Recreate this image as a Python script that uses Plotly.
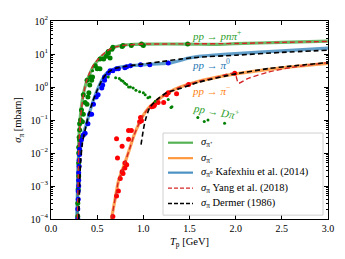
import plotly.graph_objects as go

# ---- Model curves (T_p in GeV, sigma in mbarn) ----
kaf_pip_T = [0.285, 0.29, 0.295, 0.30, 0.32, 0.35, 0.38, 0.42, 0.46, 0.50, 0.55, 0.60, 0.65, 0.70, 0.80, 0.90, 1.0, 1.5, 1.8, 2.0, 2.5, 3.0]
kaf_pip_s = [1e-4, 5e-4, 3e-3, 0.02, 0.15, 0.6, 1.3, 2.5, 4.2, 6.0, 8.5, 11.0, 14.0, 16.5, 19.0, 19.5, 20.0, 20.0, 19.5, 20.5, 22.5, 24.5]

yang_pip_T = [0.285, 0.29, 0.295, 0.30, 0.32, 0.35, 0.38, 0.42, 0.46, 0.50, 0.55, 0.60, 0.65, 0.70, 0.80, 0.90, 1.0, 1.5, 2.0, 2.5, 3.0]
yang_pip_s = [1e-4, 4e-4, 2e-3, 0.012, 0.12, 0.55, 1.4, 2.8, 4.6, 6.5, 9.0, 12.0, 14.5, 16.5, 18.5, 19.5, 20.0, 20.3, 20.8, 22.5, 24.0]

kaf_pi0_T = [0.28, 0.285, 0.29, 0.30, 0.32, 0.35, 0.38, 0.40, 0.43, 0.46, 0.50, 0.55, 0.60, 0.65, 0.70, 0.80, 0.90, 1.0, 1.1, 1.2, 1.3, 1.4, 1.5, 1.6, 1.8, 2.0, 2.5, 3.0]
kaf_pi0_s = [1e-4, 5e-4, 2e-3, 8e-3, 0.02, 0.04, 0.07, 0.11, 0.22, 0.4, 0.8, 1.6, 2.6, 3.2, 3.7, 4.2, 4.5, 4.7, 4.9, 5.1, 5.4, 6.4, 7.6, 8.5, 9.5, 10.2, 12.5, 15.0]

der_pi0_T = [0.30, 0.31, 0.32, 0.34, 0.37, 0.40, 0.45, 0.50, 0.55, 0.60, 0.65, 0.70, 0.80, 1.0, 1.2, 1.4, 1.6, 2.0, 2.5, 3.0]
der_pi0_s = [1e-4, 1e-3, 5e-3, 0.02, 0.05, 0.12, 0.35, 0.8, 1.6, 2.5, 3.2, 3.7, 4.2, 5.0, 5.9, 7.0, 8.0, 9.2, 11.2, 13.0]

kaf_pim_T = [0.655, 0.70, 0.73, 0.76, 0.80, 0.85, 0.90, 0.95, 1.0, 1.05, 1.1, 1.2, 1.3, 1.4, 1.6, 1.8, 2.0, 2.5, 3.0]
kaf_pim_s = [1e-4, 5e-4, 1.4e-3, 2.5e-3, 5e-3, 0.013, 0.035, 0.075, 0.14, 0.22, 0.3, 0.5, 0.75, 1.0, 1.5, 2.0, 2.5, 3.8, 5.2]

yang_pim_T = [0.655, 0.70, 0.73, 0.76, 0.80, 0.85, 0.90, 0.95, 1.0, 1.05, 1.1, 1.2, 1.3, 1.4, 1.6, 1.8, 1.99, 2.03, 2.13, 2.35, 2.6, 3.0]
yang_pim_s = [1e-4, 5e-4, 1.4e-3, 2.5e-3, 5e-3, 0.013, 0.035, 0.075, 0.14, 0.22, 0.3, 0.5, 0.75, 1.0, 1.5, 2.0, 2.6, 1.3, 1.8, 2.8, 3.9, 5.5]

der_pim_T = [0.975, 1.0, 1.02, 1.07, 1.15, 1.25, 1.4, 1.6, 2.0, 2.35, 2.6, 3.0]
der_pim_s = [0.018, 0.05, 0.095, 0.24, 0.42, 0.67, 0.9, 1.4, 2.5, 3.6, 4.3, 5.5]

# ---- Experimental data ----
dat_pip_T = [0.29, 0.29, 0.295, 0.30, 0.30, 0.30, 0.30, 0.305, 0.31, 0.31, 0.31, 0.32, 0.33, 0.34, 0.35, 0.35, 0.37, 0.39, 0.39, 0.40, 0.41, 0.42, 0.43, 0.44, 0.45, 0.48, 0.50, 0.53, 0.53, 0.57, 0.60, 0.62, 0.62, 0.64, 0.66, 0.67, 0.77, 0.78, 0.87, 0.98, 1.0, 1.48]
dat_pip_s = [1.2e-4, 3e-4, 8e-4, 2e-3, 5e-3, 0.01, 0.015, 0.03, 0.025, 0.05, 0.077, 0.1, 0.2, 0.088, 0.15, 0.58, 0.34, 0.3, 1.6, 0.5, 0.67, 1.15, 2.0, 1.6, 2.0, 4.4, 3.6, 3.6, 7.0, 7.0, 8.6, 10.6, 12.0, 7.5, 14.0, 16.0, 17.0, 18.0, 18.0, 20.0, 18.0, 20.0]

dat_pi0_T = [0.29, 0.29, 0.295, 0.295, 0.30, 0.30, 0.30, 0.305, 0.305, 0.31, 0.31, 0.32, 0.33, 0.35, 0.37, 0.40, 0.42, 0.44, 0.46, 0.49, 0.51, 0.55, 0.56, 0.58, 0.58, 0.62, 0.64, 0.67, 0.71, 0.73, 0.80, 0.82, 0.86, 0.97, 1.07, 1.27]
dat_pi0_s = [1e-4, 2e-4, 4e-4, 7e-4, 1e-3, 1.5e-3, 2.5e-3, 4e-3, 6e-3, 9e-3, 0.013, 0.018, 0.025, 0.035, 0.04, 0.077, 0.15, 0.15, 0.3, 0.5, 0.58, 0.93, 1.15, 1.6, 2.0, 2.6, 3.1, 3.1, 3.6, 3.6, 3.8, 4.1, 4.4, 4.7, 4.7, 5.3]

dat_pim_T = [0.67, 0.71, 0.73, 0.75, 0.77, 0.78, 0.80, 0.82, 0.80, 0.72, 0.77, 0.71, 0.84, 0.84, 0.87, 0.96, 0.97, 0.98, 1.09, 1.11, 1.12, 1.16, 1.22, 1.25, 1.27, 1.36, 1.49, 1.99]
dat_pim_s = [1.2e-4, 5e-4, 7e-4, 1.7e-3, 2.7e-3, 2.4e-3, 3.5e-3, 4.4e-3, 5e-3, 7e-3, 0.016, 0.027, 0.026, 0.048, 0.048, 0.088, 0.12, 0.095, 0.25, 0.26, 0.28, 0.34, 0.34, 0.58, 0.67, 0.62, 1.2, 2.6]

dat_dpip_T = [0.45, 0.51, 0.62, 0.70, 0.74, 0.76, 0.78, 0.80, 0.82, 0.84, 0.86, 0.89, 0.92, 0.96, 1.0, 1.02, 1.05, 1.07, 1.13, 1.27, 1.30, 1.31, 1.59, 1.66, 1.70, 1.88]
dat_dpip_s = [3.1, 3.8, 2.0, 1.9, 1.8, 1.6, 1.5, 1.3, 1.2, 1.0, 1.0, 0.93, 0.8, 0.72, 0.67, 0.58, 0.47, 0.5, 0.37, 0.42, 0.24, 0.25, 0.12, 0.09, 0.1, 0.08]

# ---- Ticks and labels ----
y_tick_vals = [1e-4, 1e-3, 1e-2, 1e-1, 1e0, 1e1, 1e2]
y_tick_text = ["10<sup>−4</sup>", "10<sup>−3</sup>", "10<sup>−2</sup>", "10<sup>−1</sup>",
               "10<sup>0</sup>", "10<sup>1</sup>", "10<sup>2</sup>"]
x_tick_vals = [0.0, 0.5, 1.0, 1.5, 2.0, 2.5, 3.0]
x_tick_text = ["0.0", "0.5", "1.0", "1.5", "2.0", "2.5", "3.0"]

legend_labels = ["<i>σ</i><sub>π⁺</sub>", "<i>σ</i><sub>π⁻</sub>",
                 "<i>σ</i><sub>π⁰</sub> Kafexhiu et al. (2014)",
                 "<i>σ</i><sub>π</sub> Yang et al. (2018)",
                 "<i>σ</i><sub>π</sub> Dermer (1986)"]

SERIF = "Liberation Serif, Times New Roman, serif"
GREEN, ORANGE, BLUE, RED = "#2ca02c", "#ff7f0e", "#1f77b4", "#d62728"

fig = go.Figure()

def line(x, y, color, width, dash="solid", opacity=1.0):
    fig.add_trace(go.Scatter(x=x, y=y, mode="lines", showlegend=False, opacity=opacity,
                             line=dict(color=color, width=width, dash=dash, shape="spline", smoothing=0.6)))

def pts(x, y, color, size):
    fig.add_trace(go.Scatter(x=x, y=y, mode="markers", showlegend=False,
                             marker=dict(color=color, size=size, line=dict(width=0))))

line(kaf_pip_T, kaf_pip_s, GREEN, 3.2, opacity=0.7)
line(kaf_pim_T, kaf_pim_s, ORANGE, 3.2, opacity=0.7)
line(kaf_pi0_T, kaf_pi0_s, BLUE, 3.2, opacity=0.7)

pts(dat_pip_T, dat_pip_s, "#008000", 5)
pts(dat_pi0_T, dat_pi0_s, "#0000ff", 5)
pts(dat_pim_T, dat_pim_s, "#ff0000", 5)
pts(dat_dpip_T, dat_dpip_s, "#008000", 3)

line(yang_pip_T, yang_pip_s, RED, 1.4, dash="5px,3px")
line(yang_pim_T, yang_pim_s, RED, 1.4, dash="5px,3px")
line(der_pi0_T, der_pi0_s, "black", 1.6, dash="5px,3px")
line(der_pim_T, der_pim_s, "black", 1.6, dash="5px,3px")

ann_font = dict(family=SERIF, size=11)
fig.add_annotation(x=1.5, y=1.59, text="<i>pp</i> → <i>pnπ</i><sup>+</sup>", showarrow=False,
                   xanchor="left", font=dict(color=GREEN, **ann_font))
fig.add_annotation(x=1.5, y=0.71, text="<i>pp</i> → <i>π</i><sup>0</sup>", showarrow=False,
                   xanchor="left", font=dict(color=BLUE, **ann_font))
fig.add_annotation(x=1.5, y=-0.08, text="<i>pp</i> → <i>π</i><sup>−</sup>", showarrow=False,
                   xanchor="left", font=dict(color=ORANGE, **ann_font))
fig.add_annotation(x=1.5, y=-0.72, text="<i>pp</i> → <i>Dπ</i><sup>+</sup>", showarrow=False,
                   xanchor="left", textangle=10, font=dict(color=GREEN, **ann_font))

# ---- Manual legend (paper coordinates, from screen px of plot area) ----
L, R, T, B = 51, 328, 14, 219
def px(xp): return (xp - L) / (R - L)
def py(yp): return (B - yp) / (B - T)

fig.add_shape(type="rect", xref="paper", yref="paper", x0=px(163), x1=px(323), y0=py(215), y1=py(130),
              line=dict(color="#d0d0d0", width=1), fillcolor="rgba(255,255,255,0.85)", layer="above")
legend_styles = [(GREEN, "solid", 2.2, 0.8), (ORANGE, "solid", 2.2, 0.8), (BLUE, "solid", 2.2, 0.8),
                 (RED, "4px,2px", 1.4, 1.0), ("black", "4px,2px", 1.6, 1.0)]
legend_y = [140, 156, 171, 187, 203]
for (c, d, w, op), yy, lab in zip(legend_styles, legend_y, legend_labels):
    fig.add_shape(type="line", xref="paper", yref="paper", x0=px(168), x1=px(193), y0=py(yy), y1=py(yy),
                  line=dict(color=c, width=w, dash=d), opacity=op, layer="above")
    fig.add_annotation(xref="paper", yref="paper", x=px(199), y=py(yy), text=lab, showarrow=False,
                       xanchor="left", yanchor="middle", font=dict(family=SERIF, size=10.5, color="black"))

axis_common = dict(showline=True, linecolor="black", linewidth=1, mirror="ticks",
                   ticks="inside", ticklen=4, tickcolor="black", showgrid=False, zeroline=False,
                   ticklabeloverflow="allow",
                   tickfont=dict(family=SERIF, size=10, color="black"))

minor_y = [m * 10 ** e for e in range(-4, 2) for m in range(2, 10)]

fig.update_xaxes(range=[0, 3], tickmode="array", tickvals=x_tick_vals, ticktext=x_tick_text,
                 title=dict(text="<i>T</i><sub>p</sub> [GeV]", font=dict(family=SERIF, size=10.5, color="black"), standoff=4),
                 **axis_common)
fig.update_yaxes(type="log", range=[-4, 2], tickmode="array", tickvals=y_tick_vals, ticktext=y_tick_text,
                 title=dict(text="<i>σ</i><sub>π</sub> [mbarn]", font=dict(family=SERIF, size=10.5, color="black"), standoff=6),
                 minor=dict(ticks="inside", ticklen=2, tickcolor="black", tickmode="array", tickvals=minor_y),
                 **axis_common)

# The page body has an 8px default margin, so the figure is drawn 8px in and
# made 8px smaller to fit the 345x259 window.
fig.update_layout(
    width=337, height=251,
    margin=dict(l=43, r=17, t=6, b=40),
    paper_bgcolor="white", plot_bgcolor="white",
    showlegend=False,
)

fig.write_html("out.html")
